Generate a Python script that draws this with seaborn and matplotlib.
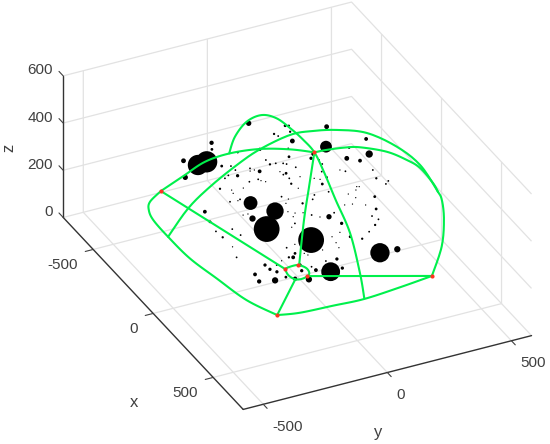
import matplotlib
matplotlib.use("Agg")
import matplotlib.pyplot as plt
import numpy as np
import seaborn as sns
from mpl_toolkits.mplot3d import proj3d

# black dots, size_px is the drawn diameter
dot_x = [-598, -524, -518, -478, -490, -470, -416, -535, -493, -467, -372, -433, -416, -376, -322, -339, -305, -302, -290, -280, -245, -357, -312,
         -451, -326, -310, -210, -282, -219, -183, -300, -277, -253, -223, -423, -417,
         -657, -592, -592, -575, -540, -520, -516, -476, -600, -587, -622, -583, -526, -527, -514, -500, -483, -446, -529, -496, -502, -479, -380, -406,
         -430, -425, -431, -354, -390, -300, -289, -200, -325, -326, -275, -304, -255, -244, -216,
         -473, -454, -437, -401, -343, -307, -292, -429, -443, -427, -394, -322, -318, -302, -289, -335, -338, -313, -254, -230,
         -226, -219, -192, -150, -112, -177, -190, -194, -115, -17, 15, -18, -51, -81, -46, -61, -2, 34, 22, 14, 30,
         132, 138, -59, 172, 185, 102, 97, 168, 138, 110, 119,
         -409, -337, -267, -219, -255, -204, -143, -70, 24, 59, 43, 86, 67, 118, 137, 134, 21, 14, -1, -50, -58, 80, 159, -171, -190, -235, -331, 24]
dot_y = [93, 204, 216, 202, 143, 150, 181, -87, -106, -233, -125, -31, 50, 145, 122, 37, 37, 59, 83, 92, 112, -95, -40,
         336, 273, 427, 391, 345, 305, 341, 209, 189, 210, 208, -161, -199,
         -134, 96, 113, 126, 191, 206, 193, 241, 12, -8, 51, 41, 61, 97, 102, 114, 201, 191, -56, 22, -22, -27, 120, 200,
         -23, -34, -63, 135, 0, 55, -41, -27, -42, -61, 95, 168, 114, 141, 162,
         327, 391, 405, 498, 484, 515, 498, 326, 282, 298, 291, 395, 403, 382, 345, 288, 232, 213, 358, 423,
         300, 328, 368, 390, 355, 213, 183, 242, 234, 221, 254, 298, 338, 366, 162, 201, 157, 151, 91, 21, 28,
         269, 336, 84, 51, -43, 110, 68, 100, 8, 4, -40,
         -175, -189, -199, -195, -139, -130, -192, -211, -142, -139, -104, -124, -203, -211, -156, -111, -27, -41, -9, -19, 18, -28, -86, 60, 82, 97, 114, -75]
dot_z = [300] * 36 + [100] * 119
size_px = [5, 2.5, 2, 2, 2, 1.5, 4.5, 4, 2.5, 4.5, 2.5, 2, 3, 1.5, 2.5, 1.5, 2, 1.5, 1.5, 1.5, 1.5, 1.5, 1.5,
           4.5, 11.5, 3.5, 7, 2, 4.5, 3.5, 3.5, 3, 1.5, 1.5, 21, 20,
           5, 1, 1, 3.5, 1, 2.5, 1.5, 1, 1.5, 1.5, 1.5, 3, 1.5, 1.5, 1, 1, 1.5, 2, 2, 1, 1, 1, 1.5, 1,
           1.5, 1, 1.5, 1, 13.5, 17, 6, 25.5, 1, 1, 1, 2, 1, 1, 1.5,
           1.5, 1, 1.5, 1.5, 2, 1.5, 1.5, 2, 1, 1, 2.5, 1, 1, 1, 1, 1.5, 1.5, 1.5, 1, 2.5,
           1, 1, 1, 2.5, 1.5, 5, 1, 1.5, 3, 2.5, 2, 1.5, 2, 1.5, 1, 1, 1, 1, 1, 1, 1,
           19, 6, 25.5, 18.5, 6, 3, 1.5, 3, 3.5, 1.5, 3,
           3.5, 2.5, 1.5, 2, 1.5, 1.5, 1, 1.5, 3, 3, 1.5, 3, 3.5, 4, 6, 2.5, 3.5, 2, 2.5, 1.5, 1, 3, 4, 1, 1.5, 1, 1, 1]

# green arcs
arc1_x = [-610, -668, -426, -439, -418, -367, -309]
arc1_y = [-255, -137, -166, -60, 51, 148, 218]
arc1_z = [100, 100, 300, 300, 300, 300, 300]
arc2_x = [-440, -535, -611, -629, -584, -491, -405, -309, -467, -272, -41, 228, 392]
arc2_y = [-62, 7, 91, 160, 199, 214, 220, 218, 333, 286, 232, 142, 80]
arc2_z = [300, 300, 300, 300, 300, 300, 300, 300, 100, 100, 100, 100, 100]
arc3_x = [-310, -457, -558, -354, -416, -458, -447, -414, -347, -212, -59, 126, 197, 326, 491, 362]
arc3_y = [-371, -219, -82, -73, 50, 192, 275, 359, 447, 503, 523, 501, 487, 433, 344, 367]
arc3_z = [100, 100, 100, 300, 300, 300, 300, 300, 300, 300, 300, 300, 300, 300, 300, 100]
arc4_x = [-309, -305, -290, -267, -196, -112, -40, 75, 140]
arc4_y = [218, 263, 332, 382, 455, 495, 514, 510, 499]
arc4_z = [300] * 9
arc5_x = [-610, -560, -510, -439, -310, -139, 30, 215, 359]
arc5_y = [-255, -323, -352, -368, -371, -366, -340, -309, -255]
arc5_z = [100] * 9
arc6_x = [-610, 81]
arc6_y = [-255, -89]
arc6_z = [100, 100]
ring_x = [81, 75, 78, 112, 152, 170, 163, 125, 81]
ring_y = [-89, -66, -34, -17, -26, -58, -87, -97, -89]
ring_z = [100] * 9
arc8_x = [359, 163]
arc8_y = [-255, -87]
arc8_z = [100, 100]
arc9_x = [359, 381, 390, 398, 382, 362]
arc9_y = [-255, -174, -45, 77, 229, 367]
arc9_z = [100] * 6
arc10_x = [162, 362]
arc10_y = [-38, 367]
arc10_z = [100, 100]
arc11_x = [-309, -397, -197, 79]
arc11_y = [218, 239, 122, -31]
arc11_z = [300, 100, 100, 100]

node_x = [-610, 359, 362, -309, 81, 78, 162]
node_y = [-255, -255, 367, 218, -89, -34, -38]
node_z = [100, 100, 100, 300, 100, 100, 100]

x_ticks = [-500, 0, 500]
y_ticks = [-500, 0, 500]
z_ticks = [0, 200, 400, 600]
x_lim = (-750, 750)
y_lim = (-581, 581)
z_lim = (0, 600)


def smooth(values, n=10):
    # round the drawn line through the read points (Catmull-Rom)
    p = np.array([values[0]] + list(values) + [values[-1]], dtype=float)
    out = []
    for i in range(1, len(p) - 2):
        for t in np.linspace(0, 1, n, endpoint=False):
            out.append(0.5 * (2 * p[i] + (p[i + 1] - p[i - 1]) * t
                              + (2 * p[i - 1] - 5 * p[i] + 4 * p[i + 1] - p[i + 2]) * t ** 2
                              + (3 * p[i] - p[i - 1] - 3 * p[i + 1] + p[i + 2]) * t ** 3))
    out.append(p[-1])
    return out


sns.set_style("white")
plt.rcParams['font.family'] = ['Liberation Sans', 'DejaVu Sans']
green = sns.color_palette(["#00f04c"])[0]
text_color = '#404040'

fig = plt.figure(figsize=(5.5, 4.44), dpi=100)
ax = fig.add_axes([25.2 / 550, -33.9 / 444, 530 / 550, 530 / 444], projection='3d',
                  proj_type='ortho', computed_zorder=False)
ax.patch.set_alpha(0)
ax.view_init(elev=31.5, azim=-26.1)
ax.set_xlim(*x_lim)
ax.set_ylim(*y_lim)
ax.set_zlim(*z_lim)
ax.set_box_aspect((409, 321, 166))

ax.scatter(dot_x, dot_y, dot_z, s=[((d + 0.3) * 0.72) ** 2 for d in size_px], c='k',
           linewidths=0, depthshade=False, zorder=2)

arcs = [(arc1_x, arc1_y, arc1_z), (arc2_x, arc2_y, arc2_z), (arc3_x, arc3_y, arc3_z),
        (arc4_x, arc4_y, arc4_z), (arc5_x, arc5_y, arc5_z), (arc6_x, arc6_y, arc6_z),
        (ring_x, ring_y, ring_z), (arc8_x, arc8_y, arc8_z), (arc9_x, arc9_y, arc9_z),
        (arc10_x, arc10_y, arc10_z), (arc11_x, arc11_y, arc11_z)]
for cx, cy, cz in arcs:
    ax.plot(smooth(cx), smooth(cy), smooth(cz), color=green, lw=1.5, zorder=3)
ax.scatter(node_x, node_y, node_z, s=9, c='#ff3322', linewidths=0, depthshade=False, zorder=4)

ax.set_xticks(x_ticks)
ax.set_yticks(y_ticks)
ax.set_zticks(z_ticks)
ax.set_xticklabels([])
ax.set_yticklabels([])
ax.set_zticklabels([])
ax.zaxis.set_ticks_position('lower')
for axis in (ax.xaxis, ax.yaxis, ax.zaxis):
    axis.set_pane_color((1, 1, 1, 0))
    axis.pane.set_edgecolor((1, 1, 1, 0))
    axis.line.set_color('#333333')
    axis.line.set_linewidth(1.0)
    axis._axinfo['grid'].update(color='#e2e2e2', linewidth=0.9)
    axis._axinfo['tick'].update(inward_factor=0.0, outward_factor=0.0)

# tick labels sit at a fixed pixel offset from the tick, as in the reference
ax.apply_aspect()
proj = ax.get_proj()


def tick_text(label, px, py, pz, dx, dy, ha):
    sx, sy, _ = proj3d.proj_transform(px, py, pz, proj)
    ax.annotate(label, xy=(sx, sy), xytext=(dx, dy), textcoords='offset pixels', ha=ha, va='center',
                fontsize=11, color=text_color, annotation_clip=False)


tick_style = dict(color='#404040', lw=0.8, zorder=1)
for v in x_ticks:
    ax.plot([v, v], [y_lim[0], y_lim[0] - 32], [z_lim[0], z_lim[0]], **tick_style)
    tick_text(f'{v}', v, y_lim[0], z_lim[0], -15, -15.5, 'right')
for v in y_ticks:
    ax.plot([x_lim[1], x_lim[1] + 32], [v, v], [z_lim[0], z_lim[0]], **tick_style)
    tick_text(f'{v}', x_lim[1], v, z_lim[0], 9, -22.5, 'left')
for v in z_ticks:
    ax.plot([x_lim[0], x_lim[0] - 35], [y_lim[0], y_lim[0]], [v, v], **tick_style)
    tick_text(f'{v}', x_lim[0], y_lim[0], v, -10, 5.5, 'right')

fig.text(134 / 550, 1 - 402 / 444, 'x', fontsize=12, color=text_color, ha='center', va='center')
fig.text(378 / 550, 1 - 432 / 444, 'y', fontsize=12, color=text_color, ha='center', va='center')
fig.text(9 / 550, 1 - 148 / 444, 'z', fontsize=12, color=text_color, ha='center', va='center', rotation=90)

fig.savefig('out.png', dpi=100)
